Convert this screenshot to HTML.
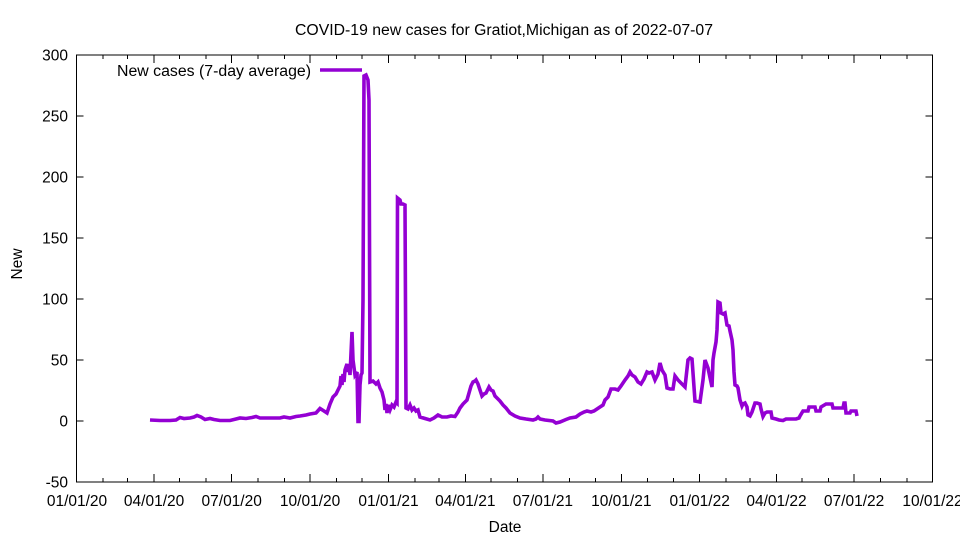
<!DOCTYPE html>
<html>
<head>
<meta charset="utf-8">
<style>
html,body{margin:0;padding:0;background:#fff;}
svg{display:block;}
text{font-family:"Liberation Sans",Arial,sans-serif;fill:#000;}
</style>
</head>
<body>
<svg width="960" height="540" viewBox="0 0 960 540" xmlns="http://www.w3.org/2000/svg">
<rect x="0" y="0" width="960" height="540" fill="#fff"/>
<text x="504" y="35" font-size="15.5" text-anchor="middle" textLength="418" lengthAdjust="spacingAndGlyphs">COVID-19 new cases for Gratiot,Michigan as of 2022-07-07</text>

<g stroke="#000" stroke-width="1" fill="none" shape-rendering="crispEdges">
<path d="M76.5 55h7M76.5 116h7M76.5 177h7M76.5 238h7M76.5 299h7M76.5 360h7M76.5 421h7M76.5 482h7"/>
<path d="M932.5 55h-7M932.5 116h-7M932.5 177h-7M932.5 238h-7M932.5 299h-7M932.5 360h-7M932.5 421h-7M932.5 482h-7"/>
<path d="M76.5 482v-8M154.1 482v-8M231.7 482v-8M310.1 482v-8M388.5 482v-8M465.3 482v-8M542.9 482v-8M621.3 482v-8M699.7 482v-8M776.5 482v-8M854.1 482v-8M932.5 482v-8"/>
<path d="M76.5 55v8M154.1 55v8M231.7 55v8M310.1 55v8M388.5 55v8M465.3 55v8M542.9 55v8M621.3 55v8M699.7 55v8M776.5 55v8M854.1 55v8M932.5 55v8"/>
<path d="M102.9 482v-4M127.7 482v-4M179.7 482v-4M206.1 482v-4M258.1 482v-4M284.5 482v-4M336.5 482v-4M362.1 482v-4M415 482v-4M438.9 482v-4M490.9 482v-4M517.3 482v-4M569.3 482v-4M595.7 482v-4M647.7 482v-4M673.3 482v-4M726.2 482v-4M750 482v-4M802 482v-4M828.5 482v-4M880.5 482v-4M906.9 482v-4"/>
<path d="M102.9 55v4M127.7 55v4M179.7 55v4M206.1 55v4M258.1 55v4M284.5 55v4M336.5 55v4M362.1 55v4M415 55v4M438.9 55v4M490.9 55v4M517.3 55v4M569.3 55v4M595.7 55v4M647.7 55v4M673.3 55v4M726.2 55v4M750 55v4M802 55v4M828.5 55v4M880.5 55v4M906.9 55v4"/>
<rect x="76.5" y="55" width="856" height="427"/>
</g>

<g font-size="15.5" text-anchor="end">
<text x="68" y="60.5">300</text>
<text x="68" y="121.5">250</text>
<text x="68" y="182.5">200</text>
<text x="68" y="243.5">150</text>
<text x="68" y="304.5">100</text>
<text x="68" y="365.5">50</text>
<text x="68" y="426.5">0</text>
<text x="68" y="487.5">-50</text>
</g>

<g font-size="15.5" text-anchor="middle">
<text x="77" y="506">01/01/20</text>
<text x="154.1" y="506">04/01/20</text>
<text x="231.7" y="506">07/01/20</text>
<text x="310.1" y="506">10/01/20</text>
<text x="388.5" y="506">01/01/21</text>
<text x="465.3" y="506">04/01/21</text>
<text x="542.9" y="506">07/01/21</text>
<text x="621.3" y="506">10/01/21</text>
<text x="699.7" y="506">01/01/22</text>
<text x="776.5" y="506">04/01/22</text>
<text x="854.1" y="506">07/01/22</text>
<text x="932.5" y="506">10/01/22</text>
</g>

<text x="505" y="532" font-size="15.5" text-anchor="middle">Date</text>
<text transform="translate(22,264) rotate(-90)" font-size="15.5" text-anchor="middle">New</text>

<text x="311" y="76" font-size="15.5" text-anchor="end" textLength="194" lengthAdjust="spacingAndGlyphs">New cases (7-day average)</text>
<line x1="320" y1="70" x2="362" y2="70" stroke="#9400d3" stroke-width="3.6"/>

<polyline fill="none" stroke="#9400d3" stroke-width="3.6" stroke-linejoin="miter" stroke-miterlimit="3" points="
150,420 160,420.5 170,420.5 176,420 180,417.5 184,418.5 190,418 194,417 197,415.5 201,417 205,419.5 210,418.5 214,419.5 220,420.5 230,420.5 236,419 240,418 246,418.5 252,417.5 256,416.5 260,418 270,418 280,418 284,417 290,418 296,416.5 300,416 306,415 310,414 316,413 320,408.5 324,411 327,413 330,404 333,397 336,394 338,390 340,386 341,376 342,385 343,374 344,382 345,370 347,364 348,372 349,365 350,375 352,332 353,360 355,375 357,372 358,421.5 359,421.5 360,385 361,375 362,373 363,300 364,76 366,75 368,80 369,100 370,382 373,381 376,384 378,382 380,388 382,392 384,400 385,410 386,404 387,413 388,405 390,410 392,405 394,407 396,402 397,403 397.5,198 400,200 401,204 403,204 405,205 406,408 408,409 410,405 412,410 414,408 416,411 418,410 420,417 425,418.5 430,420 434,418 438,415 442,417 447,417 451,416 455,416.5 458,412 460,408 463,404 467,400 469,393 471,386 473,382 475,381 476,380 478,384 480,390 482,396 484,394 486,393 488,389 489,387 491,390 493,391 495,396 497,398 500,401 503,405 506,408 510,413 515,416 520,418 526,419 533,420 536,419 538,417 540,419 545,420 553,421 556,423 560,422 566,419.5 570,418 576,417 580,414 584,412 587,411 591,412 594,411 600,407 603,405 605,400 608,397 611,389 615,389 618,390 621,386 625,380 628,376 630,372 632,375 635,377 638,382 641,384 644,379 647,372 649,373 652,372 655,380 658,374 660,363 662,370 665,375 667,388 670,389 673,389 675,376 678,380 681,383 685,387 688,360 690,358 692,359 695,401 700,402 703,380 705,360 708,368 712,387 713,360 714,353 716,342 717,330 718,302 720,303 721,313 723,314 725,313 727,325 729,326 730,331 732,340 733,350 734,372 735,385 737,386 738,388 740,400 742,406 743,404 745,403 747,407 748,415 750,416 752,412 755,403 757,403 760,404 761,409 763,416.5 765,413 767,412 771,412 772,418 776,419 779,420 783,420.5 786,419 790,419 796,419 799,418 800,416 803,411 808,411 809,407 815,407 816,411 820,411 821,407 826,404 832,404 833,408 843,408 844,403 845,403 846,413 850,413 851,411 856,411 857,416"/>
</svg>
</body>
</html>
